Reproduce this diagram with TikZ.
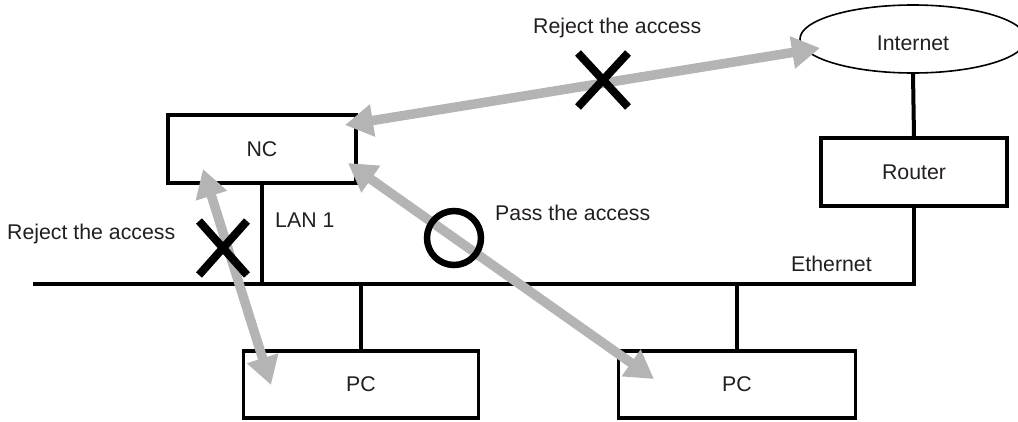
\documentclass[tikz,border=0pt]{standalone}
\usepackage{fontspec}
\setmainfont{Liberation Sans}
\usetikzlibrary{arrows.meta,shapes.geometric}
\definecolor{txt}{RGB}{35,31,32}
\definecolor{arr}{RGB}{180,180,180}
\tikzset{
  box/.style={draw=black, line width=3.3pt, inner sep=0pt, text=txt, fill=white},
  wire/.style={draw=black, line width=4pt},
  lbl/.style={inner sep=0pt, anchor=base west, text=txt},
  acc/.style={draw=arr, line width=9.5pt,
    {Triangle[width=31pt,length=28pt]}-{Triangle[width=31pt,length=28pt]}},
  xmark/.style={draw=black, line width=8pt},
}
\begin{document}
\begin{tikzpicture}[x=1pt,y=-1pt,font=\fontsize{21.3}{25}\selectfont]
\useasboundingbox (0,0) rectangle (1018,421);
% nodes
\node[box, minimum width=188pt, minimum height=68pt] (nc) at (262,149) {NC};
\node[box, minimum width=186pt, minimum height=68pt] (router) at (914,172) {Router};
\node[box, minimum width=235pt, minimum height=67pt] (pc1) at (361,384.5) {PC};
\node[box, minimum width=237pt, minimum height=67pt] (pc2) at (737,384.5) {PC};
\node[draw=black, line width=1.6pt, ellipse, minimum width=226pt, minimum height=68pt, inner sep=0pt, text=txt] (inet) at (913,39) {};
\node[text=txt, inner sep=0pt] (inettxt) at (913,43) {Internet};
% network lines
\coordinate (ethl) at (33,284);
\coordinate (ethr) at (914,284);
\draw[wire, line join=miter] (ethl) -- (ethr) -- (router.south);
\draw[wire] (inet.south) -- (router.north);
\draw[wire] (nc.south) -- (nc.south |- ethl);
\draw[wire] (pc1.north) -- (pc1.north |- ethl);
\draw[wire] (pc2.north) -- (pc2.north |- ethl);
% labels
\node[lbl] (lrej1) at (533,33) {Reject the access};
\node[lbl] (lrej2) at (7,239) {Reject the access};
\node[lbl] (lpass) at (495,220) {Pass the access};
\node[lbl] (llan) at (275,227) {LAN 1};
\node[lbl] (leth) at (791,271) {Ethernet};
% access arrows
\coordinate (a1s) at (345,125);
\coordinate (a1e) at (820,48);
\coordinate (a2s) at (348,163);
\coordinate (a2e) at (654,379);
\coordinate (a3s) at (203,169);
\coordinate (a3e) at (271,385);
\draw[acc] (a1s) -- (a1e);
\draw[acc] (a2s) -- (a2e);
\draw[acc] (a3s) -- (a3e);
% marks
\coordinate (x1) at (603,80);
\coordinate (x2) at (223,248);
\draw[xmark] ([shift={(-25,-27)}]x1) -- ([shift={(25,27)}]x1);
\draw[xmark] ([shift={(25,-27)}]x1) -- ([shift={(-25,27)}]x1);
\draw[xmark] ([shift={(-24,-27)}]x2) -- ([shift={(24,27)}]x2);
\draw[xmark] ([shift={(24,-27)}]x2) -- ([shift={(-24,27)}]x2);
\node[draw=black, line width=6.5pt, circle, minimum size=54pt, inner sep=0pt] (ok) at (454,238) {};
\end{tikzpicture}
\end{document}
